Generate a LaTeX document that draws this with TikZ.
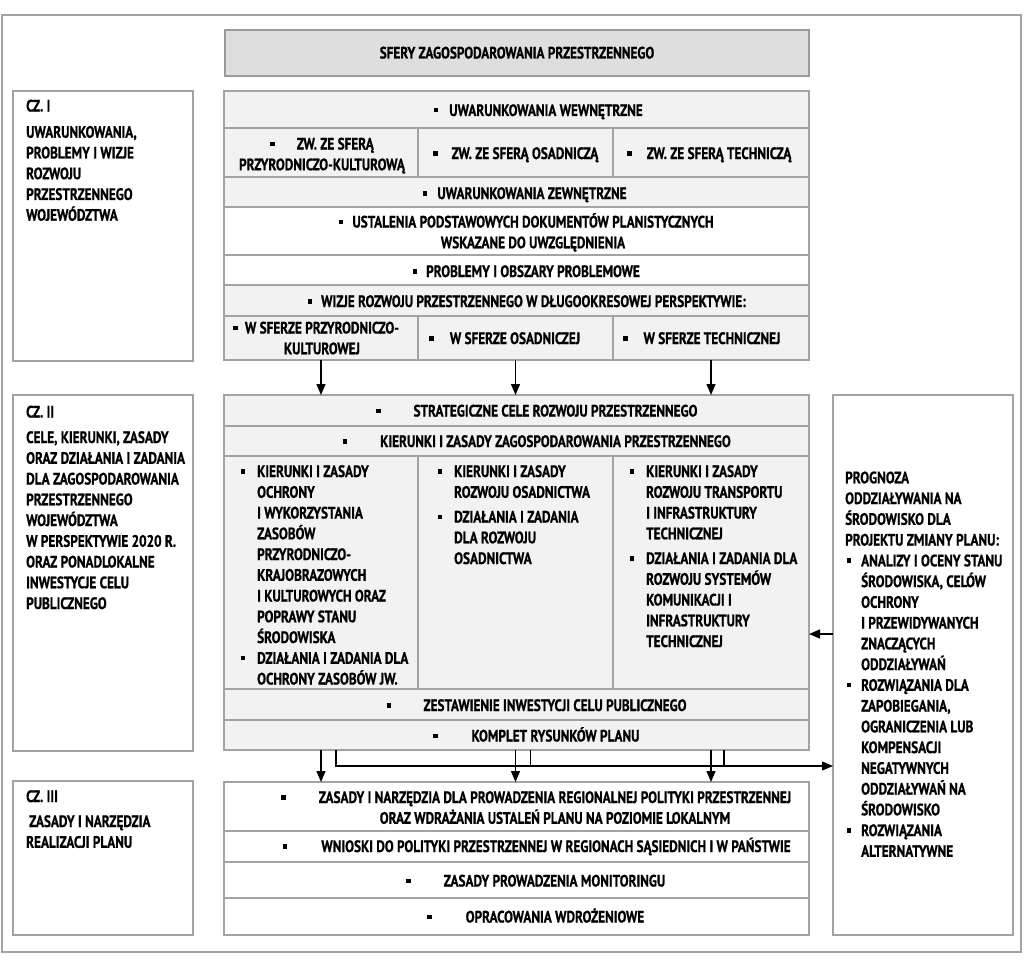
\documentclass[tikz,border=0pt]{standalone}
\usepackage{fontspec}
\setmainfont{PT Sans}[FakeStretch=0.80,FakeBold=0.8]
\usetikzlibrary{arrows.meta,calc}
\definecolor{frame}{HTML}{A3A3A3}
\definecolor{cellgray}{HTML}{F2F2F2}
\definecolor{titlefill}{HTML}{DEDEDE}
\definecolor{titleframe}{HTML}{9A9A9A}
\newcommand\bul{\rule[3.5pt]{4.5pt}{4.5pt}}
\newcommand\bl[1]{\llap{\bul\hspace{#1pt}}}
\newcommand\rows[2]{\begin{tabular}[t]{@{}#1@{}}#2\end{tabular}}
\begin{document}
\begin{tikzpicture}[x=1pt,y=-1pt,
  font=\fontsize{16.5}{20.75}\selectfont\bfseries,
  cell/.style={draw=frame, line width=1.4pt, anchor=north west, inner sep=0pt, outer sep=0pt},
  g/.style={fill=cellgray},
  w/.style={fill=white},
  t/.style={anchor=base, inner sep=0pt},
  tl/.style={anchor=base west, inner sep=0pt},
  arr/.style={line width=1.3pt, -{Triangle[length=11pt,width=9pt]}},
  ln/.style={line width=1.3pt}]
\path[use as bounding box, fill=white] (0,0) rectangle (1024,963);
\node[cell, minimum width=1019pt, minimum height=937pt] (outer) at (2,15) {};
% title
\node[cell, fill=titlefill, draw=titleframe, line width=2.4pt, minimum width=584pt, minimum height=46pt] (title) at (225,30) {};
\node[t] (titlet) at (517,58.5) {SFERY ZAGOSPODAROWANIA PRZESTRZENNEGO};
% left boxes
\node[cell,w,minimum width=180pt,minimum height=270pt] (cz1) at (13,91) {};
\node[cell,w,minimum width=180pt,minimum height=356pt] (cz2) at (13,395) {};
\node[cell,w,minimum width=180pt,minimum height=154pt] (cz3) at (13,781) {};
\node[tl] (cz1h) at (26,111.5) {CZ. I};
\node[tl] (cz1t) at (26,137.7) {\rows{l}{UWARUNKOWANIA,\\PROBLEMY I WIZJE\\ROZWOJU\\PRZESTRZENNEGO\\WOJEWÓDZTWA}};
\node[tl] (cz2h) at (26,417.5) {CZ. II};
\node[tl] (cz2t) at (26,443) {\rows{l}{CELE, KIERUNKI, ZASADY\\ORAZ DZIAŁANIA I ZADANIA\\DLA ZAGOSPODAROWANIA\\PRZESTRZENNEGO\\WOJEWÓDZTWA\\W PERSPEKTYWIE 2020 R.\\ORAZ PONADLOKALNE\\INWESTYCJE CELU\\PUBLICZNEGO}};
\node[tl] (cz3h) at (26,802) {CZ. III};
\node[tl] (cz3t) at (26,827) {\rows{l}{\hspace{3pt}ZASADY I NARZĘDZIA\\REALIZACJI PLANU}};
% section I
\node[cell,g,minimum width=585pt,minimum height=37pt] (wew) at (224,91) {};
\node[cell,g,minimum width=194pt,minimum height=49pt] (zw1) at (224,128) {};
\node[cell,g,minimum width=195pt,minimum height=49pt] (zw2) at (418,128) {};
\node[cell,g,minimum width=196pt,minimum height=49pt] (zw3) at (613,128) {};
\node[cell,g,minimum width=585pt,minimum height=30pt] (zew) at (224,177) {};
\node[cell,w,minimum width=585pt,minimum height=48pt] (ust) at (224,207) {};
\node[cell,w,minimum width=585pt,minimum height=30pt] (prob) at (224,255) {};
\node[cell,g,minimum width=585pt,minimum height=31pt] (wiz) at (224,285) {};
\node[cell,g,minimum width=194pt,minimum height=44pt] (ws1) at (224,316) {};
\node[cell,g,minimum width=195pt,minimum height=44pt] (ws2) at (418,316) {};
\node[cell,g,minimum width=196pt,minimum height=44pt] (ws3) at (613,316) {};
\node[t] (wewt) at (546,116) {\bl{11}UWARUNKOWANIA WEWNĘTRZNE};
\node[t] (zw1t) at (322,149.5) {\rows{c}{\bul\hspace{22pt}ZW. ZE SFERĄ\\PRZYRODNICZO-KULTUROWĄ}};
\node[t] (zw2t) at (525,159) {\bl{14}ZW. ZE SFERĄ OSADNICZĄ};
\node[t] (zw3t) at (719,159) {\bl{15}ZW. ZE SFERĄ TECHNICZĄ};
\node[t] (zewt) at (532,199) {\bl{10}UWARUNKOWANIA ZEWNĘTRZNE};
\node[t] (ustt) at (533,227.5) {\rows{c}{\bl{9}USTALENIA PODSTAWOWYCH DOKUMENTÓW PLANISTYCZNYCH\\WSKAZANE DO UWZGLĘDNIENIA}};
\node[t] (probt) at (533,277) {\bl{9}PROBLEMY I OBSZARY PROBLEMOWE};
\node[t] (wizt) at (533.5,307) {\bl{9}WIZJE ROZWOJU PRZESTRZENNEGO W DŁUGOOKRESOWEJ PERSPEKTYWIE:};
\node[t] (ws1t) at (322,333.5) {\rows{c}{\bl{7}W SFERZE PRZYRODNICZO-\\KULTUROWEJ}};
\node[t] (ws2t) at (515,344) {\bl{16}W SFERZE OSADNICZEJ};
\node[t] (ws3t) at (712,344) {\bl{16}W SFERZE TECHNICZNEJ};
% section II
\node[cell,g,minimum width=585pt,minimum height=31pt] (cele) at (224,395) {};
\node[cell,g,minimum width=585pt,minimum height=30pt] (kier) at (224,426) {};
\node[cell,g,minimum width=194pt,minimum height=233pt] (k1) at (224,456) {};
\node[cell,g,minimum width=195pt,minimum height=233pt] (k2) at (418,456) {};
\node[cell,g,minimum width=196pt,minimum height=233pt] (k3) at (613,456) {};
\node[cell,g,minimum width=585pt,minimum height=31pt] (zest) at (224,689) {};
\node[cell,g,minimum width=585pt,minimum height=30pt] (komp) at (224,720) {};
\node[t] (celet) at (555.5,416.5) {\bl{33}STRATEGICZNE CELE ROZWOJU PRZESTRZENNEGO};
\node[t] (kiert) at (555.5,447) {\bl{33}KIERUNKI I ZASADY ZAGOSPODAROWANIA PRZESTRZENNEGO};
\node[tl] (k1t) at (257,477) {\rows{l}{\bl{12}KIERUNKI I ZASADY\\OCHRONY\\I WYKORZYSTANIA\\ZASOBÓW\\PRZYRODNICZO-\\KRAJOBRAZOWYCH\\I KULTUROWYCH ORAZ\\POPRAWY STANU\\ŚRODOWISKA\\\bl{12}DZIAŁANIA I ZADANIA DLA\\OCHRONY ZASOBÓW JW.}};
\node[tl] (k2t) at (454,477) {\rows{l}{\bl{12}KIERUNKI I ZASADY\\ROZWOJU OSADNICTWA\\[4pt]\bl{12}DZIAŁANIA I ZADANIA\\DLA ROZWOJU\\OSADNICTWA}};
\node[tl] (k3t) at (646,477) {\rows{l}{\bl{12}KIERUNKI I ZASADY\\ROZWOJU TRANSPORTU\\I INFRASTRUKTURY\\TECHNICZNEJ\\[4pt]\bl{12}DZIAŁANIA I ZADANIA DLA\\ROZWOJU SYSTEMÓW\\KOMUNIKACJI I\\INFRASTRUKTURY\\TECHNICZNEJ}};
\node[t] (zestt) at (555,711) {\bl{32}ZESTAWIENIE INWESTYCJI CELU PUBLICZNEGO};
\node[t] (kompt) at (555.5,741.5) {\bl{34}KOMPLET RYSUNKÓW PLANU};
% section III
\node[cell,w,minimum width=585pt,minimum height=49pt] (zas) at (224,782) {};
\node[cell,w,minimum width=585pt,minimum height=31pt] (wn) at (224,831) {};
\node[cell,w,minimum width=585pt,minimum height=36pt] (mon) at (224,862) {};
\node[cell,w,minimum width=585pt,minimum height=37pt] (opr) at (224,898) {};
\node[t] (zast) at (555,803) {\rows{c}{\bl{33}ZASADY I NARZĘDZIA DLA PROWADZENIA REGIONALNEJ POLITYKI PRZESTRZENNEJ\\ORAZ WDRAŻANIA USTALEŃ PLANU NA POZIOMIE LOKALNYM}};
\node[t] (wnt) at (556,852) {\bl{34}WNIOSKI DO POLITYKI PRZESTRZENNEJ W REGIONACH SĄSIEDNICH I W PAŃSTWIE};
\node[t] (mont) at (554.5,886.5) {\bl{33}ZASADY PROWADZENIA MONITORINGU};
\node[t] (oprt) at (555,922.5) {\bl{34}OPRACOWANIA WDROŻENIOWE};
% prognoza
\node[cell,w,minimum width=180pt,minimum height=540pt] (prog) at (833,395) {};
\node[tl] (progt) at (845,483.3) {\rows{l}{PROGNOZA\\ODDZIAŁYWANIA NA\\ŚRODOWISKO DLA\\PROJEKTU ZMIANY PLANU:\\
\hspace{16pt}\bl{10}ANALIZY I OCENY STANU\\\hspace{16pt}ŚRODOWISKA, CELÓW\\\hspace{16pt}OCHRONY\\\hspace{16pt}I PRZEWIDYWANYCH\\\hspace{16pt}ZNACZĄCYCH\\\hspace{16pt}ODDZIAŁYWAŃ\\
\hspace{16pt}\bl{10}ROZWIĄZANIA DLA\\\hspace{16pt}ZAPOBIEGANIA,\\\hspace{16pt}OGRANICZENIA LUB\\\hspace{16pt}KOMPENSACJI\\\hspace{16pt}NEGATYWNYCH\\\hspace{16pt}ODDZIAŁYWAŃ NA\\\hspace{16pt}ŚRODOWISKO\\
\hspace{16pt}\bl{10}ROZWIĄZANIA\\\hspace{16pt}ALTERNATYWNE}};
% connectors
\draw[arr] (ws1.south) -- (ws1.south |- cele.north);
\draw[arr] (ws2.south) -- (ws2.south |- cele.north);
\draw[arr] (ws3.south) -- (ws3.south |- cele.north);
\coordinate (pa) at (0,634);
\draw[arr] (prog.west |- pa) -- (k3.east |- pa);
\draw[arr] (komp.south -| k1.south) -- (zas.north -| k1.south);
\draw[arr] (komp.south -| k2.south) -- (zas.north -| k2.south);
\draw[arr] (komp.south -| k3.south) -- (zas.north -| k3.south);
\coordinate (bus) at (0,766);
\coordinate (b1) at ($(komp.south -| k1.south)+(15,0)$);
\coordinate (b2) at ($(komp.south -| k2.south)+(15,0)$);
\coordinate (b3) at ($(komp.south -| k3.south)+(13,0)$);
\draw[arr] (b1) |- (prog.west |- bus);
\draw[ln] (b2) -- (b2 |- bus);
\draw[ln] (b3) -- (b3 |- bus);
\end{tikzpicture}
\end{document}
